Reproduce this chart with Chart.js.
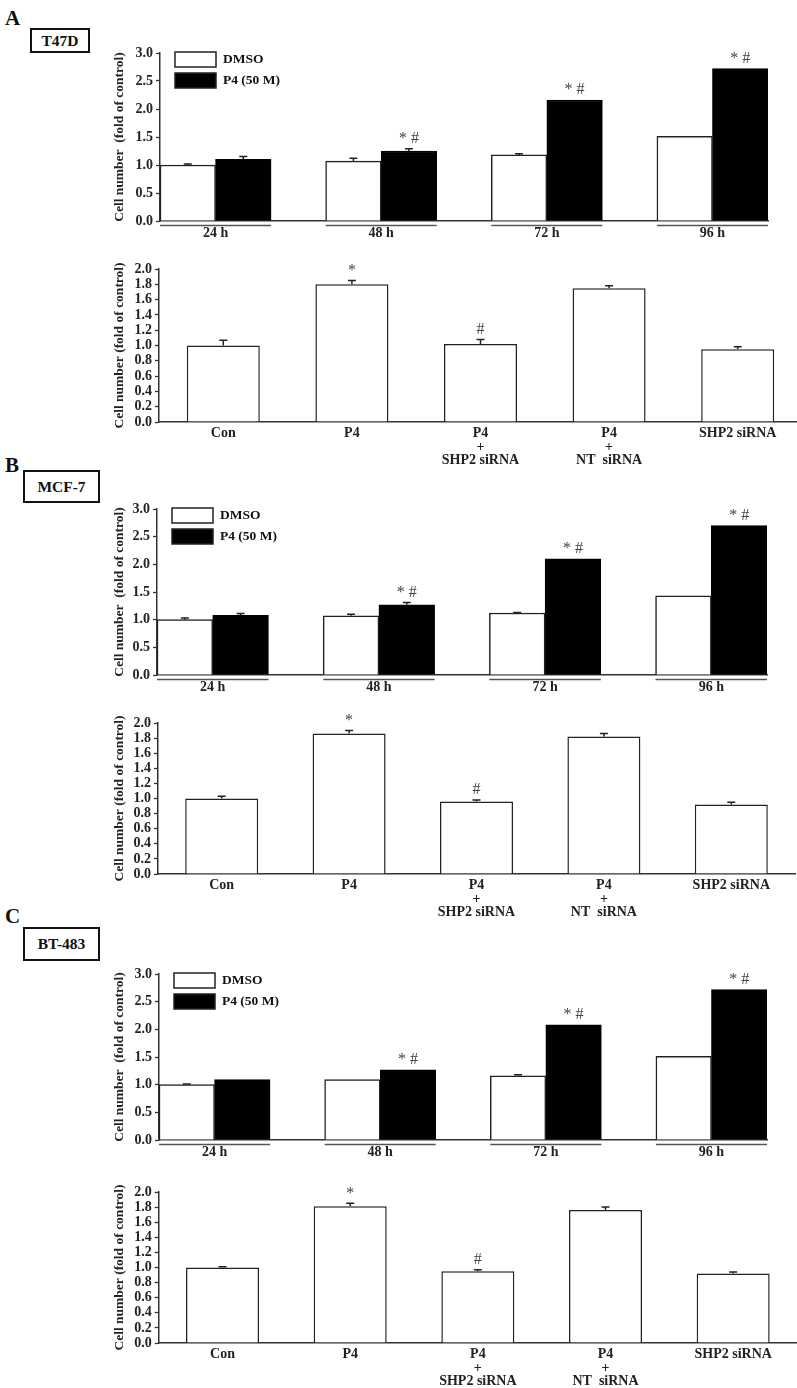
<!DOCTYPE html>
<html>
<head>
<meta charset="utf-8">
<script src="https://cdn.jsdelivr.net/npm/chart.js@4.4.1/dist/chart.umd.min.js"></script>
<style>
  html, body { margin: 0; padding: 0; background: #fff; }
  body { position: relative; width: 797px; height: 1388px; overflow: hidden; font-family: 'Liberation Serif', 'Times New Roman', serif; color: #111; }
  .letter { position: absolute; left: 5px; font-size: 21px; font-weight: bold; line-height: 1; }
  .cell { position: absolute; border: 2px solid #111; box-sizing: border-box; font-weight: bold; font-size: 15.5px; display: flex; align-items: center; justify-content: center; }
  canvas { position: absolute; left: 0; }
</style>
</head>
<body>
<div class="letter" style="top:8px">A</div>
<div class="cell" style="left:30px;top:28px;width:60px;height:25px">T47D</div>
<div class="letter" style="top:455px">B</div>
<div class="cell" style="left:23px;top:470px;width:77px;height:33px">MCF-7</div>
<div class="letter" style="top:906px">C</div>
<div class="cell" style="left:23px;top:927px;width:77px;height:34px">BT-483</div>

<canvas id="timeA" width="797" height="210"></canvas>
<canvas id="siA" width="805" height="225"></canvas>
<canvas id="timeB" width="797" height="210"></canvas>
<canvas id="siB" width="797" height="220"></canvas>
<canvas id="timeC" width="797" height="210"></canvas>
<canvas id="siC" width="797" height="212"></canvas>

<script>
// time course (top chart of each panel)
const timeLabels = ['24 h', '48 h', '72 h', '96 h'];
const seriesNames = ['DMSO', 'P4 (50 M)'];
const timeMarks = ['', '* #', '* #', '* #'];

const dmsoA = [1.00, 1.07, 1.18, 1.51];
const dmsoErrA = [0.02, 0.05, 0.02, 0];
const p4A = [1.10, 1.25, 2.16, 2.72];
const p4ErrA = [0.05, 0.04, 0, 0];

const dmsoB = [1.00, 1.07, 1.12, 1.43];
const dmsoErrB = [0.03, 0.03, 0.01, 0];
const p4B = [1.08, 1.27, 2.10, 2.70];
const p4ErrB = [0.03, 0.04, 0, 0];

const dmsoC = [1.00, 1.09, 1.16, 1.51];
const dmsoErrC = [0.01, 0, 0.02, 0];
const p4C = [1.09, 1.27, 2.08, 2.72];
const p4ErrC = [0, 0, 0, 0];

// siRNA experiment (bottom chart of each panel)
const siLabels = ['Con', 'P4', ['P4', '+', 'SHP2 siRNA'], ['P4', '+', 'NT  siRNA'], 'SHP2 siRNA'];
const siMarks = ['', '*', '#', '', ''];

const siA = [1.00, 1.80, 1.02, 1.75, 0.95];
const siErrA = [0.07, 0.05, 0.06, 0.03, 0.035];
const siB = [1.00, 1.86, 0.96, 1.82, 0.92];
const siErrB = [0.03, 0.04, 0.02, 0.04, 0.03];
const siC = [1.00, 1.81, 0.95, 1.76, 0.92];
const siErrC = [0.01, 0.04, 0.02, 0.04, 0.02];

const SERIF = "'Liberation Serif', 'Times New Roman', serif";
const INK = '#222';
const TITLE_X = 120;
const Y_AXIS_W = 52;
const TITLE_SIZE = 13.5;
const GROUP_RATIO = 0.3353; // bar width / group spacing

function valueAt(ds, i) {
  const d = ds.data[i];
  return typeof d === 'object' ? d.y : d;
}

const errorBars = {
  id: 'errorBars',
  afterDatasetsDraw(chart) {
    const ctx = chart.ctx, y = chart.scales.y;
    chart.data.datasets.forEach((ds, di) => {
      if (!ds.errors) return;
      chart.getDatasetMeta(di).data.forEach((bar, i) => {
        const err = ds.errors[i];
        if (!err) return;
        const top = y.getPixelForValue(valueAt(ds, i) + err);
        ctx.save();
        ctx.strokeStyle = INK;
        ctx.lineWidth = 1.5;
        ctx.beginPath();
        ctx.moveTo(bar.x, bar.y);
        ctx.lineTo(bar.x, top);
        ctx.moveTo(bar.x - 4, top);
        ctx.lineTo(bar.x + 4, top);
        ctx.stroke();
        ctx.restore();
      });
    });
  }
};

const sigMarks = {
  id: 'sigMarks',
  afterDatasetsDraw(chart) {
    const ctx = chart.ctx, y = chart.scales.y;
    chart.data.datasets.forEach((ds, di) => {
      if (!ds.marks) return;
      chart.getDatasetMeta(di).data.forEach((bar, i) => {
        const m = ds.marks[i];
        if (!m) return;
        const err = ds.errors ? (ds.errors[i] || 0) : 0;
        const top = Math.min(bar.y, y.getPixelForValue(valueAt(ds, i) + err));
        ctx.save();
        ctx.fillStyle = '#444';
        ctx.font = '16px ' + SERIF;
        ctx.textAlign = 'center';
        ctx.textBaseline = 'middle';
        ctx.fillText(m, bar.x, top - 10);
        ctx.restore();
      });
    });
  }
};

const boxLegend = {
  id: 'boxLegend',
  afterDraw(chart) {
    const {ctx, chartArea} = chart;
    chart.data.datasets.forEach((ds, i) => {
      const x = chartArea.left + 15, y = chartArea.top - 1 + i * 21;
      ctx.save();
      ctx.fillStyle = ds.backgroundColor;
      ctx.fillRect(x, y, 41, 15);
      ctx.strokeStyle = INK;
      ctx.lineWidth = 1.5;
      ctx.strokeRect(x, y, 41, 15);
      ctx.fillStyle = '#111';
      ctx.font = 'bold 13.5px ' + SERIF;
      ctx.textBaseline = 'middle';
      ctx.fillText(ds.label, x + 48, y + 8);
      ctx.restore();
    });
  }
};

const groupLines = {
  id: 'groupLines',
  afterDraw(chart, args, opts) {
    const {ctx, chartArea} = chart, xs = chart.scales.x;
    const y = chartArea.bottom + 4.5;
    ctx.save();
    ctx.strokeStyle = '#555';
    ctx.lineWidth = 1.5;
    timeLabels.forEach((_, i) => {
      const c = xs.getPixelForValue(i);
      ctx.beginPath();
      ctx.moveTo(c - opts.half, y);
      ctx.lineTo(c + opts.half, y);
      ctx.stroke();
    });
    ctx.restore();
  }
};

function yAxis(max, step, title, frame) {
  const padLeft = frame.l - Y_AXIS_W;
  return {
    min: 0,
    max: max,
    ticks: {
      stepSize: step,
      autoSkip: false,
      padding: 3,
      color: INK,
      font: { family: SERIF, size: 14, weight: 'bold' },
      callback: v => Number(v).toFixed(1)
    },
    grid: { drawOnChartArea: false, drawTicks: true, tickLength: 4, tickColor: '#333', tickWidth: 1.3 },
    border: { color: '#333', width: 1.5 },
    title: {
      display: true,
      text: title,
      color: INK,
      font: { family: SERIF, size: TITLE_SIZE, weight: 'bold', lineHeight: 1.2 },
      padding: { top: TITLE_X - padLeft - TITLE_SIZE * 0.6, bottom: 0 }
    },
    afterFit: s => { s.width = Y_AXIS_W; }
  };
}

function baseLayout(canvas, frame) {
  canvas.style.top = frame.top + 'px';
  return {
    padding: {
      left: frame.l - Y_AXIS_W,
      right: canvas.width - frame.r,
      top: frame.t - frame.top,
      bottom: 0
    }
  };
}

function timeChart(id, frame, dmso, dmsoErr, p4, p4Err) {
  const canvas = document.getElementById(id);
  const bw = (frame.r - frame.l) * GROUP_RATIO / (3 + 2 * GROUP_RATIO);
  const xh = canvas.height - (frame.b - frame.top);
  new Chart(canvas, {
    type: 'bar',
    data: {
      datasets: [{
        label: seriesNames[0],
        data: dmso.map((v, i) => ({ x: i, y: v })),
        errors: dmsoErr,
        backgroundColor: '#fff',
        borderColor: INK,
        borderWidth: 1.5,
        barThickness: bw
      }, {
        label: seriesNames[1],
        data: p4.map((v, i) => ({ x: i, y: v })),
        errors: p4Err,
        marks: timeMarks,
        backgroundColor: '#000',
        borderColor: '#000',
        borderWidth: 1.5,
        barThickness: bw
      }]
    },
    options: {
      responsive: false,
      animation: false,
      events: [],
      layout: baseLayout(canvas, frame),
      plugins: {
        legend: { display: false },
        tooltip: { enabled: false },
        groupLines: { half: bw }
      },
      scales: {
        x: {
          type: 'linear',
          min: -GROUP_RATIO,
          max: 3 + GROUP_RATIO,
          offset: false,
          grid: { display: false, drawTicks: false },
          border: { color: '#333', width: 1.5 },
          afterBuildTicks: s => { s.ticks = timeLabels.map((_, i) => ({ value: i })); },
          ticks: {
            autoSkip: false,
            maxRotation: 0,
            padding: 4,
            color: INK,
            font: { family: SERIF, size: 14, weight: 'bold' },
            callback: v => timeLabels[v]
          },
          afterFit: s => { s.height = xh; }
        },
        y: yAxis(3, 0.5, 'Cell number  (fold of control)', frame)
      }
    },
    plugins: [errorBars, sigMarks, boxLegend, groupLines]
  });
}

function siChart(id, frame, values, errs) {
  const canvas = document.getElementById(id);
  const cat = (frame.r - frame.l) / siLabels.length;
  const xh = canvas.height - (frame.b - frame.top);
  new Chart(canvas, {
    type: 'bar',
    data: {
      labels: siLabels,
      datasets: [{
        data: values,
        errors: errs,
        marks: siMarks,
        backgroundColor: '#fff',
        borderColor: INK,
        borderWidth: 1.5,
        categoryPercentage: 1,
        barPercentage: 73 / cat
      }]
    },
    options: {
      responsive: false,
      animation: false,
      events: [],
      layout: baseLayout(canvas, frame),
      plugins: {
        legend: { display: false },
        tooltip: { enabled: false }
      },
      scales: {
        x: {
          grid: { display: false, drawTicks: false },
          border: { color: '#333', width: 1.5 },
          ticks: {
            autoSkip: false,
            maxRotation: 0,
            padding: 5,
            color: INK,
            font: { family: SERIF, size: 14, weight: 'bold', lineHeight: 0.95 }
          },
          afterFit: s => { s.height = xh; }
        },
        y: yAxis(2, 0.2, 'Cell number (fold of control)', frame)
      }
    },
    plugins: [errorBars, sigMarks]
  });
}

timeChart('timeA', { top: 40, l: 160, r: 768, t: 53, b: 221 }, dmsoA, dmsoErrA, p4A, p4ErrA);
siChart('siA', { top: 252, l: 159, r: 802, t: 269, b: 422 }, siA, siErrA);
timeChart('timeB', { top: 495, l: 157, r: 767, t: 509, b: 675 }, dmsoB, dmsoErrB, p4B, p4ErrB);
siChart('siB', { top: 708, l: 158, r: 795, t: 723, b: 874 }, siB, siErrB);
timeChart('timeC', { top: 960, l: 159, r: 767, t: 974, b: 1140 }, dmsoC, dmsoErrC, p4C, p4ErrC);
siChart('siC', { top: 1176, l: 158.7, r: 797, t: 1192, b: 1343 }, siC, siErrC);
</script>
</body>
</html>
